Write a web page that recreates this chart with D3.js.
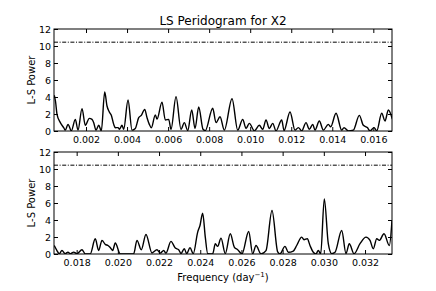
<html>
<head>
<script src="https://d3js.org/d3.v7.min.js"></script>
<style>
  body { margin: 0; background: #fff; }
  text { font-family: "DejaVu Sans", sans-serif; fill: #000; }
  .frame { fill: none; stroke: #000; stroke-width: 1px; }
  .curve { fill: none; stroke: #000; stroke-width: 1.4px; stroke-linejoin: round; }
  .level { fill: none; stroke: #000; stroke-width: 1px; stroke-dasharray: 4,1.6,1,1.6; }
</style>
</head>
<body>
<svg id="chart" width="436" height="291"></svg>
<script>
// low-frequency half of the periodogram (frequency, power)
const lowFreq = [0.000455, 0.000513, 0.000587, 0.000748, 0.000913, 0.000991, 0.001123, 0.001284, 0.001479, 0.001610,
  0.001805, 0.001966, 0.002161, 0.002292, 0.002375, 0.002487, 0.002619, 0.002746, 0.002911, 0.003023,
  0.003135, 0.003233, 0.003350, 0.003428, 0.003559, 0.003632, 0.003754, 0.003837, 0.004047, 0.004242,
  0.004402, 0.004568, 0.004695, 0.004860, 0.004973, 0.005085, 0.005182, 0.005377, 0.005460, 0.005703,
  0.005864, 0.006030, 0.006142, 0.006386, 0.006629, 0.006790, 0.006956, 0.007151, 0.007312, 0.007492,
  0.007701, 0.007813, 0.008174, 0.008335, 0.008530, 0.008739, 0.009115, 0.009392, 0.009636, 0.009797,
  0.009958, 0.010201, 0.010445, 0.010611, 0.010771, 0.010932, 0.011098, 0.011259, 0.011536, 0.011648,
  0.011941, 0.012184, 0.012345, 0.012511, 0.012721, 0.012881, 0.013047, 0.013159, 0.013369, 0.013564,
  0.013807, 0.013924, 0.014183, 0.014460, 0.014572, 0.014782, 0.015025, 0.015318, 0.015513, 0.015708,
  0.015839, 0.016034, 0.016166, 0.016409, 0.016570, 0.016731, 0.016926];
const lowPower = [4.2, 3.5, 1.96, 0.98, 0.39, 0.1, 0.78, 0.02, 1.37, 0.1,
  2.63, 0.67, 1.49, 1.37, 0.98, 0.1, 0.67, 0.02, 4.59, 2.94,
  2.24, 1.84, 0.78, 0.39, 0.4, 0.2, 0.67, 0.2, 3.65, 0.1,
  0.3, 1.57, 1.84, 2.55, 1.57, 0.78, 0.39, 1.9, 1.4, 3.4,
  1.3, 1.37, 0.2, 4.04, 0.2, 0.98, 0.05, 2.47, 0.3, 2.82,
  0.2, 0.05, 2.67, 0.98, 1.68, 0.1, 3.8, 0.1, 1.37, 0.3,
  0.9, 0.02, 0.67, 0.2, 1.3, 0.3, 0.9, 0.02, 1.3, 0.05,
  2.24, 0.1, 0.4, 0.02, 0.98, 0.2, 0.78, 0.1, 1.18, 0.1,
  0.78, 0.5, 2.08, 0.1, 0.39, 0.02, 0.1, 1.84, 0.67, 0.4,
  0.02, 0.4, 0.02, 2.08, 1.18, 2.47, 1.4];

// high-frequency half
const highFreq = [0.016912, 0.017043, 0.017155, 0.017286, 0.017446, 0.017578, 0.017699, 0.017854, 0.018015, 0.018257,
  0.018418, 0.018660, 0.018903, 0.019068, 0.019229, 0.019389, 0.019520, 0.019617, 0.019748, 0.019874,
  0.020117, 0.020768, 0.020928, 0.021137, 0.021365, 0.021657, 0.021899, 0.022060, 0.022225, 0.022336,
  0.022579, 0.022788, 0.022953, 0.023065, 0.023225, 0.023342, 0.023502, 0.023662, 0.023876, 0.023988,
  0.024119, 0.024245, 0.024362, 0.024605, 0.024731, 0.024847, 0.025008, 0.025216, 0.025459, 0.025653,
  0.025818, 0.026027, 0.026352, 0.026546, 0.026707, 0.026950, 0.027192, 0.027484, 0.027761, 0.027872,
  0.028115, 0.028275, 0.028518, 0.028683, 0.028926, 0.029038, 0.029198, 0.029329, 0.029489, 0.029620,
  0.029732, 0.029848, 0.030023, 0.030217, 0.030382, 0.030543, 0.030868, 0.031077, 0.031237, 0.031466,
  0.031757, 0.032049, 0.032243, 0.032403, 0.032568, 0.032694, 0.032922, 0.033180, 0.033311];
const highPower = [1.0, 0.41, 0.04, 0.42, 0.04, 0.22, 0.04, 0.22, 0.03, 0.5,
  0.02, 0.02, 1.79, 0.42, 1.6, 1.13, 1.0, 0.8, 0.42, 1.29,
  0.02, 0.02, 1.6, 0.5, 2.3, 0.12, 0.5, 0.1, 0.42, 0.1,
  1.48, 0.7, 0.5, 0.05, 0.62, 0.05, 0.74, 0.05, 2.58, 3.36,
  4.8, 1.99, 0.05, 0.02, 1.21, 0.9, 1.87, 0.05, 2.38, 0.82,
  0.5, 0.02, 2.65, 0.02, 1.0, 0.02, 0.4, 5.11, 0.24, 0.02,
  0.9, 0.2, 0.35, 1.0, 1.99, 1.68, 1.8, 1.0, 0.2, 0.02,
  0.42, 0.02, 6.48, 1.21, 0.05, 0.2, 2.77, 0.05, 1.21, 0.02,
  1.21, 1.99, 1.6, 0.62, 1.8, 1.6, 2.38, 1.0, 4.0];

const lowDomain = [0.00044, 0.01691];
const highDomain = [0.0169, 0.03331];
const lowTicks = [0.002, 0.004, 0.006, 0.008, 0.010, 0.012, 0.014, 0.016];
const highTicks = [0.018, 0.020, 0.022, 0.024, 0.026, 0.028, 0.030, 0.032];
const powerTicks = [0, 2, 4, 6, 8, 10, 12];
const significance = 10.45;

const svg = d3.select("#chart");
const left = 54, right = 392;
const panelHeight = 102;

svg.append("text")
  .attr("x", (left + right) / 2)
  .attr("y", 24.5)
  .attr("text-anchor", "middle")
  .attr("font-size", 12)
  .text("LS Peridogram for X2");

function drawPanel(top, freq, power, domain, ticks, id) {
  const x = d3.scaleLinear().domain(domain).range([left, right]);
  const y = d3.scaleLinear().domain([0, 12]).range([top + panelHeight, top]);

  svg.append("clipPath").attr("id", id)
    .append("rect")
    .attr("x", left).attr("y", top)
    .attr("width", right - left).attr("height", panelHeight);

  const g = svg.append("g").attr("clip-path", `url(#${id})`);

  g.append("line")
    .attr("class", "level")
    .attr("x1", left).attr("x2", right)
    .attr("y1", y(significance)).attr("y2", y(significance));

  const line = d3.line()
    .x(d => x(d[0]))
    .y(d => y(d[1]))
    .curve(d3.curveMonotoneX);
  g.append("path")
    .datum(d3.zip(freq, power))
    .attr("class", "curve")
    .attr("d", line);

  // axes, ticks pointing inwards
  const bottom = svg.append("g")
    .attr("transform", `translate(0,${top + panelHeight})`)
    .call(d3.axisBottom(x).tickValues(ticks).tickFormat(d3.format(".3f")).tickSize(-4).tickPadding(5));
  const topAx = svg.append("g")
    .attr("transform", `translate(0,${top})`)
    .call(d3.axisTop(x).tickValues(ticks).tickFormat("").tickSize(-4));
  const leftAx = svg.append("g")
    .attr("transform", `translate(${left},0)`)
    .call(d3.axisLeft(y).tickValues(powerTicks).tickFormat(d3.format("d")).tickSize(-4).tickPadding(3));
  const rightAx = svg.append("g")
    .attr("transform", `translate(${right},0)`)
    .call(d3.axisRight(y).tickValues(powerTicks).tickFormat("").tickSize(-4));

  [bottom, topAx, leftAx, rightAx].forEach(a => {
    a.select(".domain").remove();
    a.selectAll("text").attr("font-size", 9.5).attr("font-family", "DejaVu Sans").attr("fill", "#000");
    a.selectAll("line").attr("stroke", "#000");
  });

  svg.append("rect")
    .attr("class", "frame")
    .attr("x", left).attr("y", top)
    .attr("width", right - left).attr("height", panelHeight);

  svg.append("text")
    .attr("transform", `translate(34.5,${top + panelHeight / 2}) rotate(-90)`)
    .attr("text-anchor", "middle")
    .attr("font-size", 10)
    .text("L-S Power");
}

drawPanel(29, lowFreq, lowPower, lowDomain, lowTicks, "clipLow");
drawPanel(152, highFreq, highPower, highDomain, highTicks, "clipHigh");

const xlab = svg.append("text")
  .attr("x", (left + right) / 2)
  .attr("y", 281)
  .attr("text-anchor", "middle")
  .attr("font-size", 10)
  .text("Frequency (day");
xlab.append("tspan").attr("dy", -4).attr("font-size", 7).text("\u22121");
xlab.append("tspan").attr("dy", 4).text(")");
</script>
</body>
</html>
